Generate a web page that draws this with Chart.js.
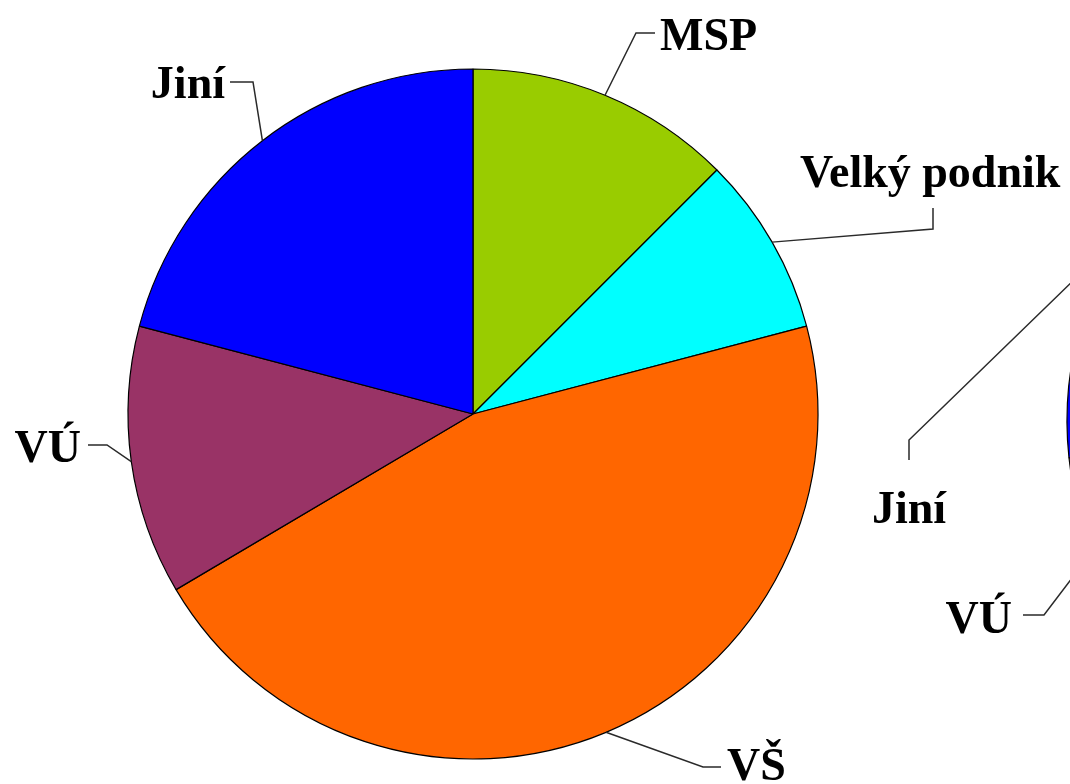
<!DOCTYPE html>
<html lang="cs">
<head>
<meta charset="utf-8">
<title>Podíl subjektů</title>
<script src="https://cdn.jsdelivr.net/npm/chart.js@4/dist/chart.umd.min.js"></script>
<style>
html, body { margin: 0; padding: 0; background: #fff; }
#wrap { position: relative; width: 1070px; height: 784px; overflow: hidden; background: #fff; }
canvas { position: absolute; }
#side { left: 1060px; top: 0; }
#main { left: 0; top: 0; }
</style>
</head>
<body>
<div id="wrap">
  <canvas id="side" width="720" height="784"></canvas>
  <canvas id="main" width="1070" height="784"></canvas>
</div>
<script>
// Categories and their shares (%) for the two pies
const categories = ['MSP', 'Velký podnik', 'VŠ', 'VÚ', 'Jiní'];
const sharesMain = [12.5, 8.4, 45.6, 12.6, 20.9];
const sharesSide = [13.9, 9.7, 39.1, 10.6, 26.7];
const sliceColors = ['#99CC00', '#00FFFF', '#FF6600', '#993366', '#0000FF'];

// Label placement: the leader starts on the slice edge ("at" = position within
// the slice), runs through the listed points and ends next to the text.
const labelLayout = [
  { pie: 'main', index: 0, at: 0.5, path: [[636, 33], [655, 33]], x: 660, y: 50, align: 'left' },
  { pie: 'main', index: 1, at: 0.5, path: [[933, 229], [933, 208]], x: 800, y: 187, align: 'left' },
  { pie: 'main', index: 2, at: 0.5, path: [[703, 767], [721, 767]], x: 727, y: 780, align: 'left' },
  { pie: 'main', index: 3, at: 0.5, path: [[107, 445], [88, 445]], x: 81, y: 462, align: 'right' },
  { pie: 'main', index: 4, at: 0.5, path: [[253, 82], [230, 82]], x: 225, y: 98, align: 'right' },
  { pie: 'side', index: 4, at: 0.41, path: [[909, 440], [909, 460]], x: 872, y: 523, align: 'left' },
  { pie: 'side', index: 3, at: 0.58, path: [[1044, 615], [1023, 615]], x: 1012, y: 633, align: 'right' }
];

const labelFont = 'bold 46px "Liberation Serif", "Times New Roman", serif';
const sideOffset = { x: 1060, y: 0 };

function pieConfig(values, padding) {
  return {
    type: 'pie',
    data: {
      labels: categories,
      datasets: [{
        data: values,
        backgroundColor: sliceColors,
        borderColor: '#000',
        borderWidth: 1.2,
        radius: 345
      }]
    },
    options: {
      responsive: false,
      animation: false,
      layout: { padding: padding },
      plugins: { legend: { display: false }, tooltip: { enabled: false } }
    }
  };
}

const sideChart = new Chart(document.getElementById('side'),
  pieConfig(sharesSide, { left: 0, right: 16, top: 58, bottom: 0 }));

// Leader lines and category names, drawn on the full-size canvas
const leaderLabels = {
  id: 'leaderLabels',
  afterDraw(chart) {
    const ctx = chart.ctx;
    ctx.save();
    ctx.strokeStyle = '#2a2a2a';
    ctx.lineWidth = 1.5;
    ctx.lineJoin = 'miter';
    ctx.fillStyle = '#000';
    ctx.font = labelFont;
    ctx.textBaseline = 'alphabetic';
    labelLayout.forEach(l => {
      const src = l.pie === 'main' ? chart : sideChart;
      const off = l.pie === 'main' ? { x: 0, y: 0 } : sideOffset;
      const arc = src.getDatasetMeta(0).data[l.index];
      const p = arc.getProps(['x', 'y', 'startAngle', 'endAngle', 'outerRadius'], true);
      const a = p.startAngle + (p.endAngle - p.startAngle) * l.at;
      const ax = off.x + p.x + p.outerRadius * Math.cos(a);
      const ay = off.y + p.y + p.outerRadius * Math.sin(a);
      ctx.beginPath();
      ctx.moveTo(ax, ay);
      l.path.forEach(pt => ctx.lineTo(pt[0], pt[1]));
      ctx.stroke();
      ctx.textAlign = l.align;
      ctx.fillText(categories[l.index], l.x, l.y);
    });
    ctx.restore();
  }
};

const mainCfg = pieConfig(sharesMain, { left: 0, right: 124, top: 44, bottom: 0 });
mainCfg.plugins = [leaderLabels];
new Chart(document.getElementById('main'), mainCfg);
</script>
</body>
</html>
